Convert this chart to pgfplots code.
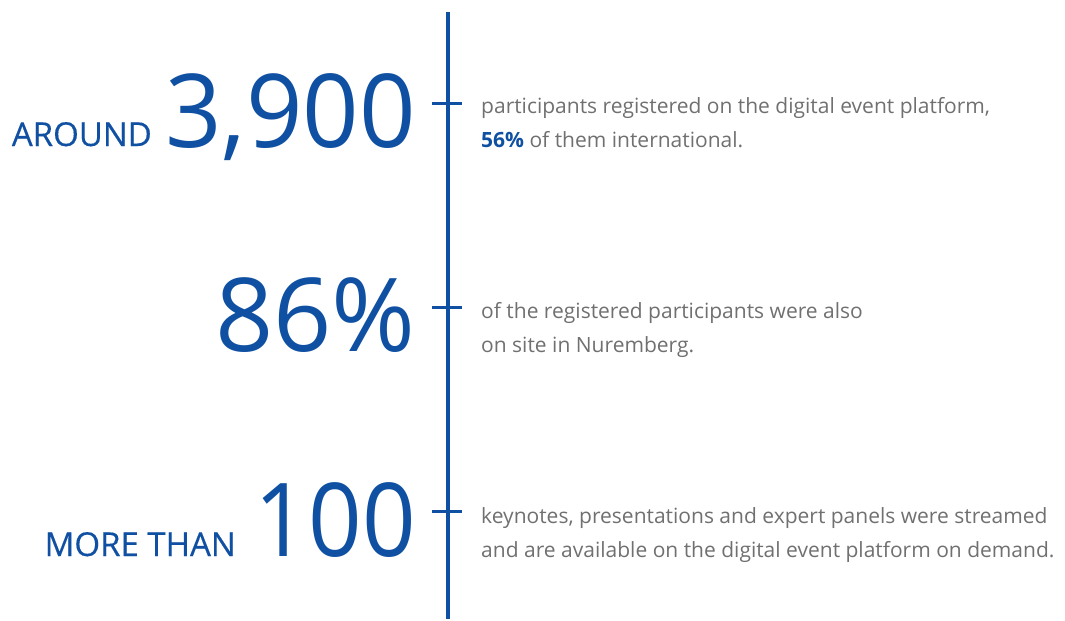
\documentclass[border=0pt]{standalone}
\usepackage{pgfplots}
\pgfplotsset{compat=1.18}
\usepackage{fontspec}
\setmainfont{Open Sans}
\newfontfamily\bignumA[FakeStretch=0.97]{Open Sans}
\newfontfamily\bignumB{Open Sans}
\newfontfamily\bignumC[FakeStretch=0.92]{Open Sans}
\newfontfamily\capsfont[FakeBold=0.4]{Open Sans}
\definecolor{fblue}{RGB}{16,80,162}
\definecolor{tgray}{RGB}{112,112,112}
\begin{document}
\begin{tikzpicture}
\begin{axis}[scale only axis, width=1065pt, height=619pt,
  xmin=0, xmax=1065, ymin=0, ymax=619, y dir=reverse,
  hide axis, clip=false]
\addplot[draw=none] coordinates {(0,0) (1065,619)};
% timeline
\addplot[fblue, line width=3.5pt] coordinates {(448,12) (448,619)};
\addplot[fblue, line width=3pt] coordinates {(432,103) (462,103)};
\addplot[fblue, line width=3pt] coordinates {(432,307) (462,307)};
\addplot[fblue, line width=3pt] coordinates {(432,511) (462,511)};
% big numbers
\node[anchor=base east, inner sep=0, text=fblue, font=\bignumA\fontsize{102}{102}\selectfont] at (axis cs:416,147) {3,900};
\node[anchor=base east, inner sep=0, text=fblue, font=\bignumB\fontsize{102}{102}\selectfont] at (axis cs:416,351) {86\%};
\node[anchor=base east, inner sep=0, text=fblue, font=\bignumC\fontsize{102}{102}\selectfont] at (axis cs:416,556) {100};
\node[anchor=base east, inner sep=0, text=fblue, font=\capsfont\fontsize{33}{33}\selectfont] at (axis cs:152,146) {AROUND};
\node[anchor=base east, inner sep=0, text=fblue, font=\capsfont\fontsize{33}{33}\selectfont] at (axis cs:236,556) {MORE THAN};
% descriptions
\node[anchor=base west, inner sep=0, text=tgray, font=\fontsize{21}{21}\selectfont] at (axis cs:481,113) {participants registered on the digital event platform,};
\node[anchor=base west, inner sep=0, text=tgray, font=\fontsize{21}{21}\selectfont] at (axis cs:481,147) {\textcolor{fblue}{\textbf{56\%}} of them international.};
\node[anchor=base west, inner sep=0, text=tgray, font=\fontsize{21}{21}\selectfont] at (axis cs:481,318) {of the registered participants were also};
\node[anchor=base west, inner sep=0, text=tgray, font=\fontsize{21}{21}\selectfont] at (axis cs:481,352) {on site in Nuremberg.};
\node[anchor=base west, inner sep=0, text=tgray, font=\fontsize{21}{21}\selectfont] at (axis cs:481,523) {keynotes, presentations and expert panels were streamed};
\node[anchor=base west, inner sep=0, text=tgray, font=\fontsize{21}{21}\selectfont] at (axis cs:481,557) {and are available on the digital event platform on demand.};
\end{axis}
\end{tikzpicture}
\end{document}
